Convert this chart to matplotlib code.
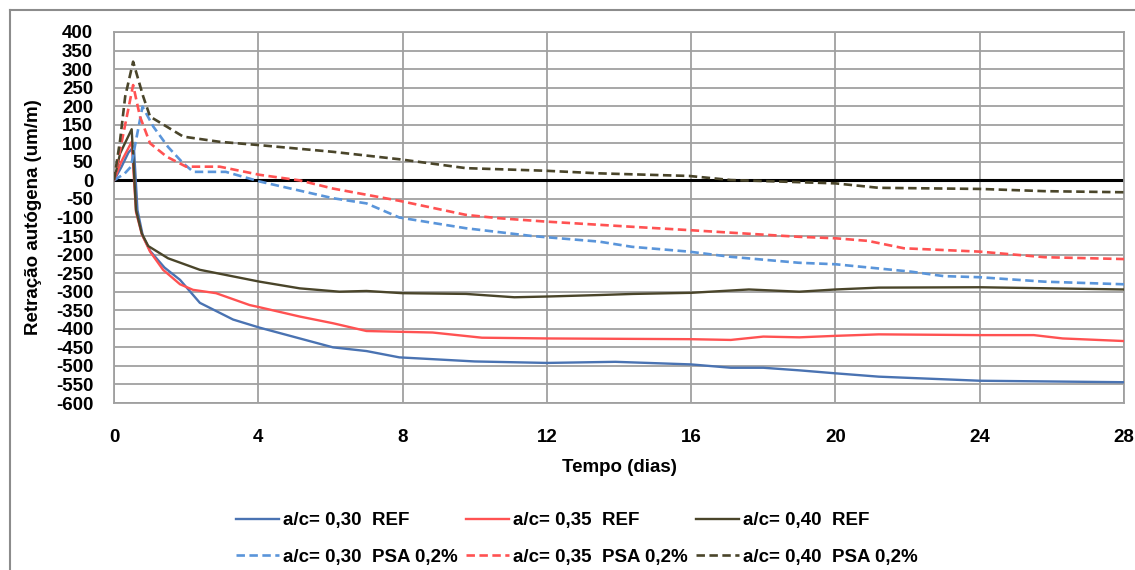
import matplotlib
matplotlib.use("Agg")
import matplotlib.pyplot as plt
from matplotlib.lines import Line2D

# ---- data ----
t_ref30 = [0, 0.2, 0.4, 0.55, 0.65, 0.8, 1.0, 1.4, 1.83, 2.38, 3.3, 4.04, 5.15, 6.07, 7.0, 7.91, 10.0, 12.0, 13.9, 16.0, 17.1, 18.0, 19.0, 20.0, 21.2, 24.0, 28.0]
v_ref30 = [0, 35, 75, 91, -80, -150, -190, -235, -268, -330, -375, -397, -426, -450, -460, -477, -488, -492, -489, -496, -505, -505, -512, -520, -529, -540, -544]

t_ref35 = [0, 0.2, 0.49, 0.61, 0.77, 1.0, 1.36, 1.83, 2.19, 2.83, 3.76, 4.04, 5.15, 6.07, 7.0, 8.83, 10.2, 12.0, 16.0, 17.1, 18.0, 19.0, 20.0, 21.2, 24.0, 25.5, 26.3, 28.0]
v_ref35 = [0, 50, 104, -85, -145, -192, -241, -280, -295, -304, -336, -342, -367, -385, -406, -410, -424, -426, -428, -430, -421, -423, -419, -415, -417, -417, -426, -433]

t_ref40 = [0, 0.17, 0.49, 0.61, 0.77, 0.95, 1.5, 2.38, 4.04, 5.15, 6.25, 7.0, 8.0, 9.76, 11.1, 12.0, 13.45, 14.4, 16.0, 17.6, 19.0, 20.0, 21.2, 24.0, 28.0]
v_ref40 = [0, 73, 138, -80, -143, -177, -210, -241, -273, -291, -300, -298, -304, -306, -315, -313, -309, -306, -303, -294, -300, -294, -289, -288, -294]

t_psa30 = [0, 0.3, 0.47, 0.79, 1.09, 1.5, 1.92, 2.2, 3.1, 4.04, 6.07, 7.0, 7.91, 9.76, 11.6, 13.45, 14.36, 15.94, 17.1, 18.98, 20.0, 22.1, 23.0, 24.0, 25.8, 28.0]
v_psa30 = [0, 19, 37, 199, 145, 90, 46, 23, 23, -3, -48, -62, -100, -129, -150, -165, -179, -192, -206, -222, -226, -246, -258, -261, -273, -280]

t_psa35 = [0, 0.53, 0.72, 1.0, 1.46, 2.0, 2.93, 4.04, 5.15, 6.07, 7.91, 9.76, 10.68, 11.97, 14.36, 15.94, 18.98, 20.0, 20.9, 21.9, 24.0, 25.8, 28.0]
v_psa35 = [0, 257, 172, 100, 64, 37, 37, 15, 0, -22, -55, -93, -102, -111, -125, -134, -152, -156, -163, -183, -192, -207, -212]

t_psa40 = [0, 0.17, 0.31, 0.53, 0.81, 1.0, 1.92, 2.93, 4.04, 6.07, 7.91, 9.76, 11.97, 13.45, 15.94, 17.1, 18.43, 20.0, 21.2, 24.0, 25.8, 28.0]
v_psa40 = [0, 109, 226, 320, 226, 172, 118, 104, 95, 77, 57, 33, 26, 19, 12, 1, -3, -8, -20, -23, -29, -32]

labels = ["a/c= 0,30  REF", "a/c= 0,35  REF", "a/c= 0,40  REF",
          "a/c= 0,30  PSA 0,2%", "a/c= 0,35  PSA 0,2%", "a/c= 0,40  PSA 0,2%"]
x_ticks = [0, 4, 8, 12, 16, 20, 24, 28]
y_ticks = list(range(-600, 401, 50))

# ---- style ----
c_blue = "#4A73B2"
c_red = "#FF5252"
c_dark = "#4A452A"
c_lblue = "#5A95DA"
FONT = ["Liberation Sans", "DejaVu Sans"]
plt.rcParams["font.family"] = FONT
plt.rcParams["axes.unicode_minus"] = False

fig = plt.figure(figsize=(11.35, 5.70), dpi=100)
ax = fig.add_axes([114 / 1135, 1 - 403 / 570, (1124 - 114) / 1135, (403 - 32) / 570])

ax.set_xlim(0, 28)
ax.set_ylim(-600, 400)
ax.set_xticks(x_ticks)
ax.set_yticks(y_ticks)
ax.grid(True, color="#A0A0A0", linewidth=1.3)
ax.set_axisbelow(True)
for s in ax.spines.values():
    s.set_color("#A0A0A0")
    s.set_linewidth(1.3)
ax.tick_params(length=0)
ax.tick_params(axis="y", pad=15)
ax.tick_params(axis="x", pad=19)
for lab in ax.get_xticklabels() + ax.get_yticklabels():
    lab.set_fontweight("bold")
    lab.set_fontsize(13.5)

ax.axhline(0, color="black", linewidth=2.2, zorder=2)

lw = 1.7
dash = (3.2, 1.7)
series = [
    (t_ref30, v_ref30, c_blue, "-"),
    (t_ref35, v_ref35, c_red, "-"),
    (t_ref40, v_ref40, c_dark, "-"),
    (t_psa30, v_psa30, c_lblue, "--"),
    (t_psa35, v_psa35, c_red, "--"),
    (t_psa40, v_psa40, c_dark, "--"),
]
handles = []
for (t, v, c, ls), lab in zip(series, labels):
    if ls == "-":
        ln, = ax.plot(t, v, color=c, linewidth=lw, label=lab, zorder=3,
                      solid_joinstyle="round")
    else:
        ln, = ax.plot(t, v, color=c, linewidth=lw + 0.2, linestyle=(0, dash),
                      label=lab, zorder=3)
    handles.append(ln)

ax.set_xlabel("Tempo (dias)", fontsize=13.5, fontweight="bold", labelpad=9)
ax.set_ylabel("Retração autógena (um/m)", fontsize=13.5, fontweight="bold", labelpad=10)

order = [0, 3, 1, 4, 2, 5]
leg = fig.legend(handles=[handles[i] for i in order], labels=[labels[i] for i in order],
                 ncol=3, loc="center",
                 bbox_to_anchor=(577 / 1135, 1 - 539 / 570), frameon=False,
                 prop={"family": FONT, "weight": "bold", "size": 13.5},
                 handlelength=2.3, handletextpad=0.2, columnspacing=0.45,
                 labelspacing=1.05)

# outer chart border (left and top)
fig.add_artist(Line2D([10 / 1135, 10 / 1135], [0, 1 - 10 / 570], transform=fig.transFigure,
                      color="#8C8C8C", linewidth=1.5))
fig.add_artist(Line2D([10 / 1135, 1], [1 - 10 / 570, 1 - 10 / 570], transform=fig.transFigure,
                      color="#8C8C8C", linewidth=1.5))

fig.savefig("out.png", dpi=100)
